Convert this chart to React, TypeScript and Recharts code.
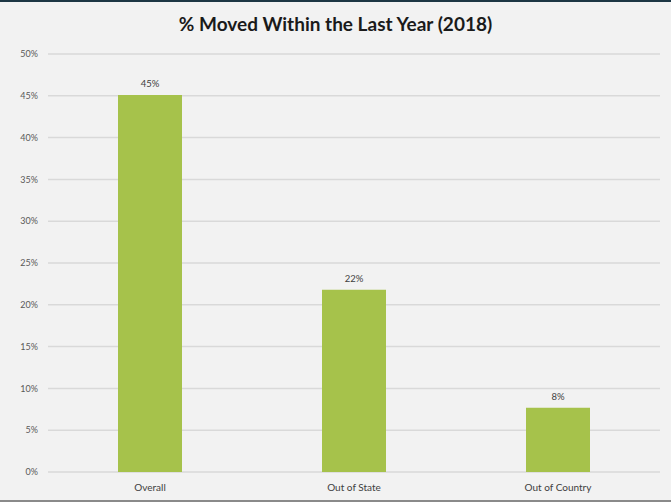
import { BarChart, Bar, XAxis, YAxis, CartesianGrid, LabelList } from "recharts";

const categories = ["Overall", "Out of State", "Out of Country"];
const movedPct = [45.1, 21.8, 7.7];
const yTicks = [0, 5, 10, 15, 20, 25, 30, 35, 40, 45, 50];

const data = categories.map((name, i) => ({ name, value: movedPct[i] }));

const FONT = "Lato, 'Open Sans', sans-serif";

export default function App() {
  return (
    <div
      style={{
        position: "absolute",
        top: 0,
        left: 0,
        width: 671,
        height: 502,
        boxSizing: "border-box",
        background: "#f2f2f2",
        borderTop: "2px solid #1d3644",
        borderBottom: "2px solid #8a8a8a",
        fontFamily: FONT,
      }}
    >
      <div
        style={{
          position: "absolute",
          top: 10,
          left: 0,
          width: 671,
          textAlign: "center",
          fontWeight: 700,
          fontSize: 19,
          color: "#1a1a1a",
        }}
      >
        % Moved Within the Last Year (2018)
      </div>
      <BarChart
        width={671}
        height={498}
        data={data}
        margin={{ top: 50, right: 11, bottom: 0, left: 0 }}
        barCategoryGap={70}
        style={{ position: "absolute", top: 2, left: 0 }}
      >
        <CartesianGrid vertical={false} stroke="#d9d9d9" strokeWidth={1.5} />
        <XAxis
          dataKey="name"
          axisLine={false}
          tickLine={false}
          height={30}
          tickMargin={6}
          tick={{ fontSize: 10, fill: "#404040", fontFamily: FONT }}
        />
        <YAxis
          width={48}
          domain={[0, 50]}
          ticks={yTicks}
          interval={0}
          axisLine={false}
          tickLine={false}
          tickMargin={4}
          tickFormatter={(v: number) => `${v}%`}
          tick={{ fontSize: 9, fill: "#595959", fontFamily: FONT }}
        />
        <Bar dataKey="value" fill="#a6c24b" isAnimationActive={false}>
          <LabelList
            dataKey="value"
            position="top"
            offset={8}
            formatter={(v: number) => `${Math.round(v)}%`}
            style={{ fontSize: 9.5, fill: "#404040", fontFamily: FONT }}
          />
        </Bar>
      </BarChart>
    </div>
  );
}
